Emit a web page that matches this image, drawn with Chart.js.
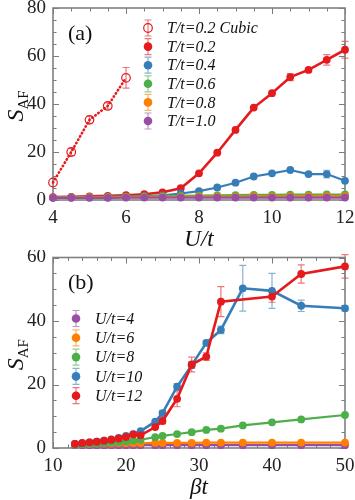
<!DOCTYPE html>
<html>
<head>
<meta charset="utf-8">
<script src="https://cdn.jsdelivr.net/npm/chart.js@4"></script>
<style>
  html, body { margin: 0; padding: 0; background: #fff; }
  .panel { position: relative; width: 355px; height: 250px; }
</style>
</head>
<body>
<div class="panel"><canvas id="chartA" width="355" height="250"></canvas></div>
<div class="panel"><canvas id="chartB" width="355" height="250"></canvas></div>
<script>
// ---- panel (a): S_AF vs U/t ----
const uCubic = [4, 4.5, 5, 5.5, 6];
const sCubic = [7.3, 20.0, 33.4, 39.2, 50.9];
const eCubic = [0.8, 1.5, 1.5, 1.3, 4.3];

const uValues = [4, 4.5, 5, 5.5, 6, 6.5, 7, 7.5, 8, 8.5, 9, 9.5, 10, 10.5, 11, 11.5, 12];
const sT02 = [1.2, 1.3, 1.5, 1.7, 2.0, 2.4, 3.2, 4.9, 11.1, 19.7, 29.2, 38.5, 44.5, 51.2, 54.2, 58.4, 62.6];
const eT02 = [0.1, 0.1, 0.1, 0.1, 0.1, 0.2, 0.3, 0.5, 0.6, 0.6, 0.6, 0.7, 0.8, 1.5, 0.9, 2.2, 3.5];
const sT04 = [1.0, 1.1, 1.2, 1.3, 1.4, 1.6, 1.9, 2.7, 3.7, 5.2, 7.2, 9.8, 11.1, 12.5, 10.8, 10.8, 8.0];
const eT04 = [0.1, 0.1, 0.1, 0.1, 0.1, 0.1, 0.1, 0.2, 0.3, 0.3, 0.4, 0.5, 0.5, 0.6, 0.6, 1.6, 0.6];
const sT06 = [1.0, 1.1, 1.2, 1.3, 1.4, 1.5, 1.6, 1.7, 1.8, 1.9, 2.0, 2.1, 2.1, 2.2, 2.2, 2.3, 2.3];
const sT08 = [1.0, 1.0, 1.1, 1.1, 1.2, 1.2, 1.3, 1.3, 1.4, 1.4, 1.4, 1.5, 1.5, 1.5, 1.6, 1.6, 1.6];
const sT10 = [0.9, 0.9, 0.9, 0.9, 1.0, 1.0, 1.0, 1.0, 1.0, 1.0, 1.0, 1.0, 1.0, 1.0, 1.0, 1.0, 1.0];
const labelsA = ['T/t=0.2 Cubic', 'T/t=0.2', 'T/t=0.4', 'T/t=0.6', 'T/t=0.8', 'T/t=1.0'];

// ---- panel (b): S_AF vs beta*t ----
const betaValues = [13, 14, 15, 16, 17, 18, 19, 20, 21, 22, 24, 25, 27, 29, 31, 33, 36, 40, 44, 50];
const betaU12 = [13, 14, 15, 16, 17, 18, 19, 20, 21, 22, 24, 25, 27, 29, 31, 33, 40, 44, 50];
const sU12 = [1.3, 1.6, 1.8, 2.0, 2.3, 2.6, 3.0, 3.5, 4.3, 4.0, 6.6, 8.5, 15.5, 26.3, 28.8, 46.1, 47.7, 54.8, 57.2];
const eU12 = [0.1, 0.1, 0.1, 0.1, 0.2, 0.2, 0.2, 0.3, 0.3, 0.3, 0.5, 0.8, 2.5, 2.3, 1.2, 4.7, 1.8, 2.9, 3.7];
const sU10 = [1.3, 1.5, 1.8, 2.0, 2.3, 2.7, 3.2, 3.8, 4.4, 5.3, 8.3, 11.0, 19.3, 26.1, 33.1, 37.2, 50.3, 49.5, 44.8, 44.0];
const eU10 = [0.1, 0.1, 0.1, 0.1, 0.1, 0.2, 0.2, 0.2, 0.3, 0.3, 0.5, 0.8, 1.0, 1.0, 0.8, 1.2, 7.2, 5.5, 1.8, 0.8];
const sU8 = [1.1, 1.2, 1.3, 1.4, 1.6, 1.7, 1.9, 2.1, 2.4, 2.6, 3.4, 3.8, 4.4, 5.0, 5.7, 6.1, 7.1, 8.1, 9.0, 10.4];
const sU6 = [1.3, 1.3, 1.3, 1.4, 1.4, 1.4, 1.5, 1.5, 1.5, 1.5, 1.6, 1.6, 1.6, 1.6, 1.7, 1.7, 1.7, 1.7, 1.7, 1.7];
const sU4 = [0.9, 0.9, 0.9, 0.9, 0.9, 0.9, 0.9, 0.9, 0.9, 0.9, 0.9, 0.9, 0.9, 0.9, 0.9, 0.9, 0.9, 0.9, 0.9, 0.9];
const labelsB = ['U/t=4', 'U/t=6', 'U/t=8', 'U/t=10', 'U/t=12'];

const RED = '#e41a1c', BLUE = '#377eb8', GREEN = '#4daf4a', ORANGE = '#ff7f00', PURPLE = '#984ea3';
const SERIF = "'Liberation Serif', 'DejaVu Serif', serif";
Chart.defaults.font.family = SERIF;

function pts(xs, ys) {
  return xs.map((x, i) => ({ x: x, y: ys[i] }));
}

function fade(hex, a) {
  const n = parseInt(hex.slice(1), 16);
  return 'rgba(' + (n >> 16) + ',' + ((n >> 8) & 255) + ',' + (n & 255) + ',' + a + ')';
}

// frame box and inward ticks on all four sides
const frameTicks = {
  id: 'frameTicks',
  beforeDatasetsDraw(chart, args, opts) {
    const ctx = chart.ctx, a = chart.chartArea, x = chart.scales.x, y = chart.scales.y;
    ctx.save();
    ctx.strokeStyle = '#7a7a7a';
    ctx.lineWidth = 1;
    ctx.beginPath();
    const isMajor = (v, step) => Math.abs(v / step - Math.round(v / step)) < 1e-6;
    for (let v = x.min; v <= x.max + 1e-9; v += opts.xMinor) {
      const px = Math.round(x.getPixelForValue(v)) + 0.5;
      const len = isMajor(v, opts.xMajor) ? 6 : 3.5;
      ctx.moveTo(px, a.bottom); ctx.lineTo(px, a.bottom - len);
      ctx.moveTo(px, a.top); ctx.lineTo(px, a.top + len);
    }
    for (let v = y.min; v <= y.max + 1e-9; v += opts.yMinor) {
      const py = Math.round(y.getPixelForValue(v)) + 0.5;
      const len = isMajor(v, opts.yMajor) ? 6 : 3.5;
      ctx.moveTo(a.left, py); ctx.lineTo(a.left + len, py);
      ctx.moveTo(a.right, py); ctx.lineTo(a.right - len, py);
    }
    ctx.stroke();
    ctx.lineWidth = 1.6;
    ctx.strokeStyle = '#808080';
    ctx.strokeRect(a.left, a.top, a.right - a.left, a.bottom - a.top);
    ctx.restore();
  }
};

// vertical error bars with caps, read from dataset.errors
const errorBars = {
  id: 'errorBars',
  beforeDatasetsDraw(chart) {
    const ctx = chart.ctx, y = chart.scales.y;
    ctx.save();
    chart.data.datasets.forEach((ds, i) => {
      if (!ds.errors) return;
      const meta = chart.getDatasetMeta(i);
      ctx.strokeStyle = fade(ds.borderColor, 0.6);
      ctx.lineWidth = 1.2;
      ctx.beginPath();
      meta.data.forEach((p, j) => {
        const e = ds.errors[j];
        if (!e) return;
        const v = ds.data[j].y;
        const top = y.getPixelForValue(v + e), bot = y.getPixelForValue(v - e);
        ctx.moveTo(p.x, top); ctx.lineTo(p.x, bot);
        if (bot - top > 5) {
          ctx.moveTo(p.x - 3.5, top); ctx.lineTo(p.x + 3.5, top);
          ctx.moveTo(p.x - 3.5, bot); ctx.lineTo(p.x + 3.5, bot);
        }
      });
      ctx.stroke();
    });
    ctx.restore();
  }
};

// legend inside the plot, axis titles and panel tag
const decorations = {
  id: 'decorations',
  afterDraw(chart, args, opts) {
    const ctx = chart.ctx, a = chart.chartArea;
    ctx.save();
    // legend
    ctx.font = 'italic 16px ' + SERIF;
    ctx.textBaseline = 'middle';
    ctx.textAlign = 'left';
    opts.legend.forEach((idx, k) => {
      const ds = chart.data.datasets[idx];
      const mx = a.left + opts.legendX, my = a.top + opts.legendY + k * opts.legendGap;
      ctx.strokeStyle = fade(ds.borderColor, 0.6);
      ctx.lineWidth = 1.2;
      ctx.beginPath();
      ctx.moveTo(mx, my - 8); ctx.lineTo(mx, my + 8);
      ctx.moveTo(mx - 3.5, my - 8); ctx.lineTo(mx + 3.5, my - 8);
      ctx.moveTo(mx - 3.5, my + 8); ctx.lineTo(mx + 3.5, my + 8);
      ctx.stroke();
      ctx.beginPath();
      ctx.arc(mx, my, 4.3, 0, Math.PI * 2);
      if (ds.open) {
        ctx.strokeStyle = ds.borderColor;
        ctx.lineWidth = 1.2;
        ctx.stroke();
      } else {
        ctx.fillStyle = ds.borderColor;
        ctx.fill();
      }
      ctx.fillStyle = '#111';
      ctx.fillText(ds.label, mx + 19, my + 1);
    });
    // panel tag
    ctx.font = '22px ' + SERIF;
    ctx.fillStyle = '#111';
    ctx.fillText(opts.tag, a.left + 15, a.top + 26);
    // x title
    ctx.font = 'italic 23px ' + SERIF;
    ctx.textAlign = 'center';
    ctx.textBaseline = 'alphabetic';
    ctx.fillText(opts.xTitle, (a.left + a.right) / 2, a.bottom + 46);
    // y title: S with upright subscript AF, rotated
    ctx.translate(23, (a.top + a.bottom) / 2 + 2);
    ctx.rotate(-Math.PI / 2);
    ctx.textAlign = 'left';
    ctx.font = 'italic 24px ' + SERIF;
    const wS = ctx.measureText('S').width;
    ctx.font = '15px ' + SERIF;
    const wAF = ctx.measureText('AF').width;
    const x0 = -(wS + wAF) / 2;
    ctx.font = 'italic 24px ' + SERIF;
    ctx.fillText('S', x0, 0);
    ctx.font = '15px ' + SERIF;
    ctx.fillText('AF', x0 + wS, 5);
    ctx.restore();
  }
};

function line(label, xs, ys, color, extra) {
  return Object.assign({
    label: label,
    data: pts(xs, ys),
    borderColor: color,
    backgroundColor: color,
    pointBackgroundColor: color,
    pointBorderColor: color,
    pointRadius: 3.9,
    pointBorderWidth: 0,
    borderWidth: 2.2,
    clip: false
  }, extra || {});
}

function makeChart(id, datasets, sc, deco, pad, xHeight) {
  const tickFont = { family: SERIF, size: 19 };
  return new Chart(document.getElementById(id), {
    type: 'line',
    data: { datasets: datasets },
    options: {
      responsive: false,
      animation: false,
      devicePixelRatio: 1,
      layout: { padding: pad },
      plugins: {
        legend: { display: false },
        tooltip: { enabled: false },
        frameTicks: sc.ticks,
        decorations: deco
      },
      scales: {
        x: {
          type: 'linear', min: sc.xMin, max: sc.xMax,
          grid: { display: false, drawTicks: false }, border: { display: false },
          ticks: { stepSize: sc.xStep, font: tickFont, color: '#222', padding: 7, maxRotation: 0 },
          afterFit: s => { s.height = xHeight; s.paddingLeft = 0; s.paddingRight = 0; }
        },
        y: {
          type: 'linear', min: sc.yMin, max: sc.yMax,
          grid: { display: false, drawTicks: false }, border: { display: false },
          ticks: { stepSize: sc.yStep, font: tickFont, color: '#222', padding: 7 },
          afterFit: s => { s.width = 53; s.paddingTop = 0; s.paddingBottom = 0; }
        }
      }
    },
    plugins: [errorBars, frameTicks, decorations]
  });
}

makeChart('chartA', [
  line(labelsA[5], uValues, sT10, PURPLE, { order: 0 }),
  line(labelsA[4], uValues, sT08, ORANGE, { order: 1 }),
  line(labelsA[3], uValues, sT06, GREEN, { order: 2 }),
  line(labelsA[2], uValues, sT04, BLUE, { order: 3, errors: eT04 }),
  line(labelsA[1], uValues, sT02, RED, { order: 4, errors: eT02, borderWidth: 2.6 }),
  line(labelsA[0], uCubic, sCubic, RED, {
    order: 5, errors: eCubic, open: true,
    pointBackgroundColor: 'rgba(255,255,255,0)', pointBorderWidth: 1.2, pointRadius: 4.3,
    borderWidth: 2.6, borderDash: [0.5, 3.3], borderCapStyle: 'round'
  })
], {
  xMin: 4, xMax: 12, xStep: 2, yMin: 0, yMax: 80, yStep: 20,
  ticks: { xMinor: 0.5, xMajor: 2, yMinor: 5, yMajor: 20 }
}, {
  legend: [5, 4, 3, 2, 1, 0], legendX: 95, legendY: 20, legendGap: 18.6,
  tag: '(a)', xTitle: 'U/t'
}, { top: 8, right: 10, left: 0, bottom: 0 }, 50);

makeChart('chartB', [
  line(labelsB[4], betaU12, sU12, RED, { order: 0, errors: eU12, borderWidth: 2.6 }),
  line(labelsB[3], betaValues, sU10, BLUE, { order: 1, errors: eU10, borderWidth: 2.6 }),
  line(labelsB[2], betaValues, sU8, GREEN, { order: 2 }),
  line(labelsB[1], betaValues, sU6, ORANGE, { order: 3 }),
  line(labelsB[0], betaValues, sU4, PURPLE, { order: 4 })
], {
  xMin: 10, xMax: 50, xStep: 10, yMin: 0, yMax: 60, yStep: 20,
  ticks: { xMinor: 2, xMajor: 10, yMinor: 5, yMajor: 20 }
}, {
  legend: [4, 3, 2, 1, 0], legendX: 23, legendY: 61, legendGap: 19.3,
  tag: '(b)', xTitle: 'βt'
}, { top: 7.5, right: 10, left: 0, bottom: 0 }, 52);
</script>
</body>
</html>
